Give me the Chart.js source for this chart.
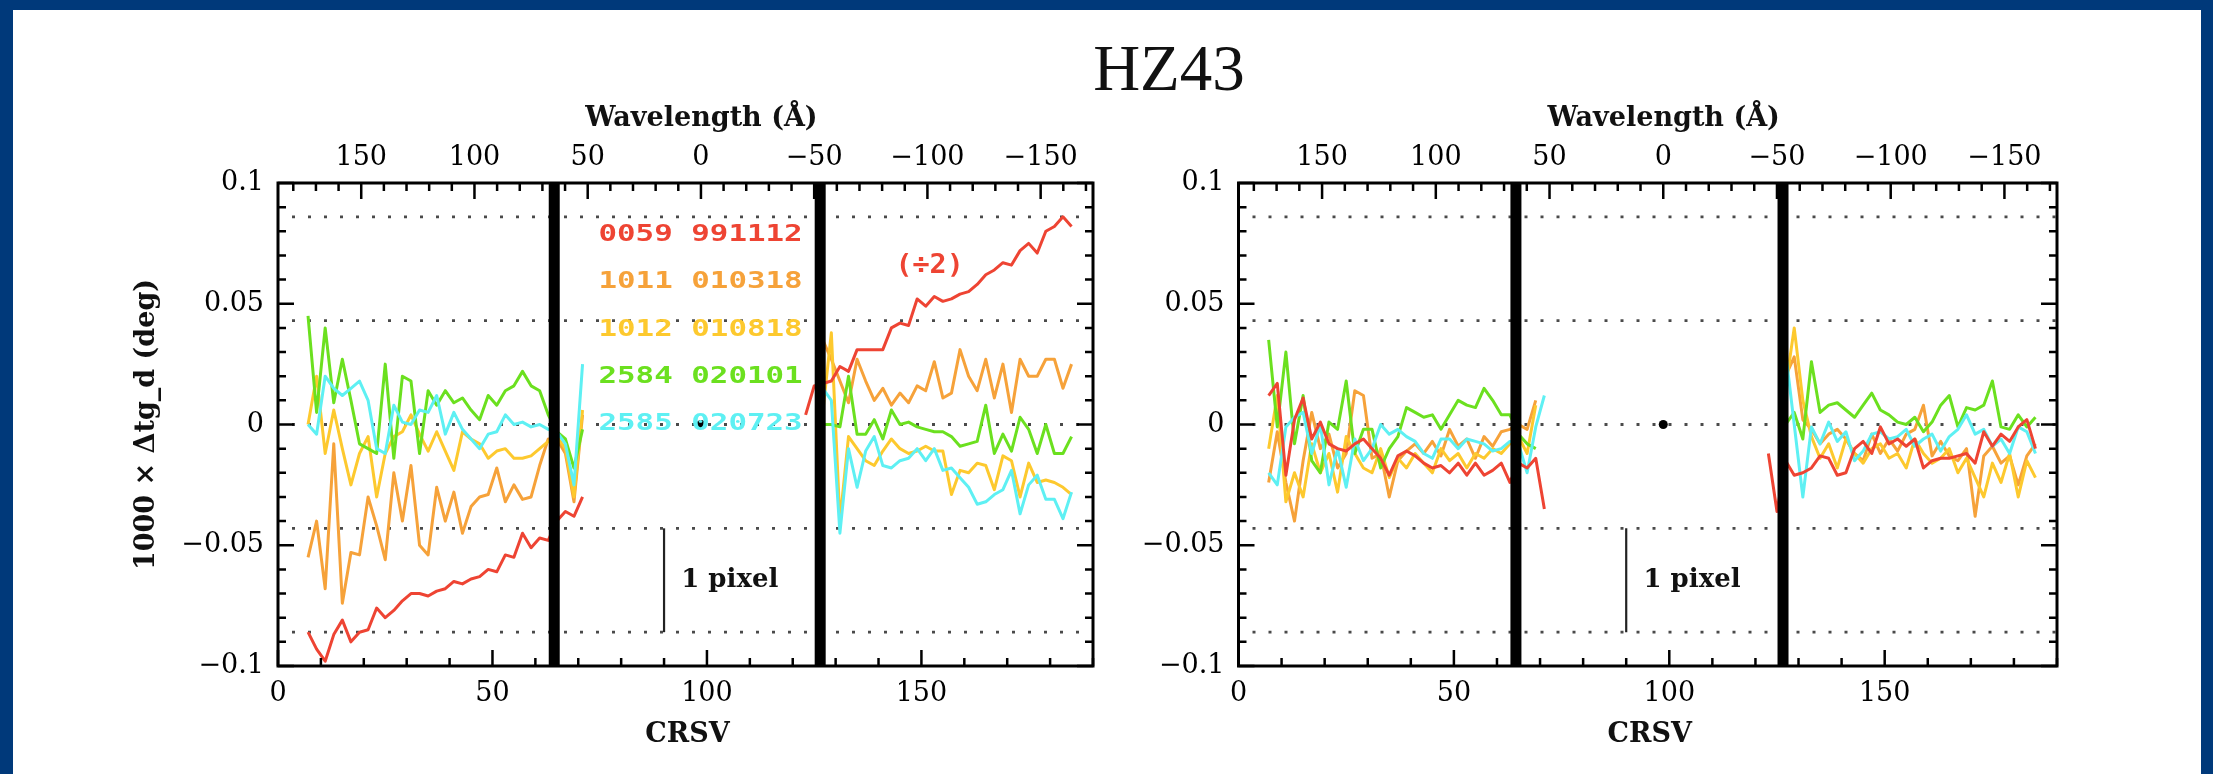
<!DOCTYPE html>
<html>
<head>
<meta charset="utf-8">
<script src="https://cdn.jsdelivr.net/npm/chart.js@4.4.1/dist/chart.umd.min.js"></script>
<style>
  html, body { margin: 0; padding: 0; background: #fff; }
  #page { position: relative; width: 2213px; height: 774px; overflow: hidden; background: #fff; }
  .band { position: absolute; background: #00397a; }
  #title {
    position: absolute; left: 869px; width: 600px; top: 36px;
    text-align: center; font-family: "Liberation Serif", serif;
    font-size: 65px; line-height: 65px; color: #111; z-index: 2;
  }
  canvas { position: absolute; top: 0; }
</style>
</head>
<body>
<div id="page">
  <div class="band" style="left:0;top:0;width:2213px;height:10px"></div>
  <div class="band" style="left:0;top:0;width:13px;height:774px"></div>
  <div class="band" style="left:2201px;top:0;width:12px;height:774px"></div>
  <div id="title">HZ43</div>
  <canvas id="panelA" width="1120" height="774" style="left:0"></canvas>
  <canvas id="panelB" width="1093" height="774" style="left:1120px"></canvas>
</div>
<script>
// CRSV positions of the plotted points (left and right of the gap)
const xLeft = [7, 9, 11, 13, 15, 17, 19, 21, 23, 25, 27, 29, 31, 33, 35, 37, 39, 41, 43, 45, 47, 49, 51, 53, 55, 57, 59, 61, 63, 65, 67, 69, 71];
const xRight = [123, 125, 127, 129, 131, 133, 135, 137, 139, 141, 143, 145, 147, 149, 151, 153, 155, 157, 159, 161, 163, 165, 167, 169, 171, 173, 175, 177, 179, 181, 183, 185];

// axes
const crsvRange = [0, 190];
const crsvTicks = [0, 50, 100, 150];
const wavelengthTicks = [-150, -100, -50, 0, 50, 100, 150];
const wavelengthZeroCrsv = 98.6;
const angstromPerCrsv = 1.894;
const yRange = [-0.1, 0.1];
const yTicks = [-0.1, -0.05, 0, 0.05, 0.1];

// reference marks
const guideLevels = [0.086, 0.043, 0, -0.043, -0.086];
const gapColumns = [64.4, 126.4];
const pixelBarCrsv = 90;
const pixelBarRange = [-0.086, -0.043];

// legend
const seriesNames = ['0059 991112', '1011 010318', '1012 010818', '2584 020101', '2585 020723'];
const seriesColors = ['#ee4433', '#f6a23a', '#fdc92e', '#6be01f', '#5ef0f3'];

// left panel : 1000 x dtg_d, red is divided by 2 on the right side
const redA_L = [-0.086, -0.093, -0.098, -0.087, -0.081, -0.090, -0.086, -0.085, -0.076, -0.080, -0.077, -0.073, -0.070, -0.070, -0.071, -0.069, -0.068, -0.065, -0.066, -0.064, -0.063, -0.060, -0.061, -0.054, -0.055, -0.045, -0.051, -0.047, -0.048, -0.040, -0.036, -0.038, -0.030];
const redA_R = [0.004, 0.016, 0.017, 0.018, 0.024, 0.022, 0.031, 0.031, 0.031, 0.031, 0.040, 0.042, 0.041, 0.052, 0.049, 0.053, 0.051, 0.052, 0.054, 0.055, 0.058, 0.062, 0.064, 0.067, 0.066, 0.072, 0.075, 0.071, 0.080, 0.082, 0.086, 0.082];
const orangeA_L = [-0.055, -0.040, -0.068, -0.008, -0.074, -0.053, -0.054, -0.030, -0.042, -0.056, -0.020, -0.040, -0.017, -0.050, -0.054, -0.026, -0.040, -0.028, -0.045, -0.034, -0.030, -0.029, -0.018, -0.032, -0.025, -0.031, -0.030, -0.017, -0.006, -0.006, -0.012, -0.032, 0.004];
const orangeA_R = [null, null, 0.035, 0.027, 0.018, 0.009, 0.027, 0.018, 0.010, 0.015, 0.008, 0.013, 0.009, 0.016, 0.014, 0.026, 0.011, 0.013, 0.031, 0.020, 0.014, 0.027, 0.011, 0.025, 0.005, 0.027, 0.020, 0.020, 0.027, 0.027, 0.015, 0.025];
const yellowA_L = [0.000, 0.020, -0.012, 0.006, -0.010, -0.025, -0.012, -0.005, -0.030, -0.012, -0.005, -0.003, 0.004, -0.004, -0.011, -0.003, -0.011, -0.019, -0.003, -0.006, -0.008, -0.014, -0.011, -0.010, -0.014, -0.014, -0.013, -0.010, -0.007, -0.005, -0.010, -0.030, 0.006];
const yellowA_R = [null, null, 0.005, 0.038, -0.040, -0.005, -0.010, -0.015, -0.017, -0.011, -0.006, -0.010, -0.012, -0.011, -0.009, -0.011, -0.011, -0.029, -0.019, -0.020, -0.016, -0.017, -0.027, -0.013, -0.015, -0.030, -0.016, -0.024, -0.023, -0.024, -0.026, -0.029];
const greenA_L = [0.045, 0.005, 0.040, 0.009, 0.027, 0.010, -0.008, -0.010, -0.012, 0.025, -0.014, 0.020, 0.018, -0.012, 0.014, 0.008, 0.014, 0.009, 0.011, 0.006, 0.002, 0.012, 0.008, 0.014, 0.016, 0.022, 0.016, 0.014, 0.004, -0.003, -0.006, -0.018, -0.002];
const greenA_R = [null, null, 0.000, 0.000, -0.001, 0.020, -0.004, -0.004, 0.002, -0.006, 0.006, 0.000, 0.001, -0.001, -0.002, -0.003, -0.003, -0.005, -0.009, -0.008, -0.007, 0.008, -0.012, -0.004, -0.011, 0.003, -0.002, -0.012, 0.000, -0.012, -0.012, -0.005];
const cyanA_L = [0.000, -0.004, 0.020, 0.015, 0.012, 0.015, 0.018, 0.010, -0.010, -0.012, 0.008, 0.001, 0.000, 0.006, 0.005, 0.012, -0.004, 0.005, -0.002, -0.006, -0.010, -0.004, -0.003, 0.004, 0.000, 0.001, -0.001, 0.000, -0.002, -0.003, -0.008, -0.025, 0.025];
const cyanA_R = [null, null, 0.015, 0.010, -0.045, -0.010, -0.026, -0.011, -0.005, -0.017, -0.018, -0.015, -0.014, -0.010, -0.015, -0.010, -0.019, -0.018, -0.022, -0.026, -0.033, -0.032, -0.029, -0.027, -0.019, -0.037, -0.025, -0.021, -0.031, -0.031, -0.039, -0.028];

// right panel
const redB_L = [0.012, 0.017, -0.021, 0.002, 0.011, -0.006, 0.001, -0.008, -0.010, -0.011, -0.008, -0.006, -0.010, -0.014, -0.021, -0.013, -0.011, -0.013, -0.016, -0.018, -0.017, -0.020, -0.016, -0.021, -0.016, -0.021, -0.019, -0.016, -0.024, -0.016, -0.018, -0.014, -0.035];
const redB_R = [-0.012, -0.036, -0.015, -0.021, -0.020, -0.018, -0.013, -0.014, -0.021, -0.020, -0.010, -0.007, -0.012, -0.001, -0.008, -0.006, -0.009, -0.006, -0.018, -0.015, -0.014, -0.014, -0.013, -0.012, -0.016, -0.003, -0.009, -0.004, -0.007, -0.001, 0.002, -0.010];
const orangeB_L = [-0.024, -0.003, -0.024, -0.040, -0.015, 0.005, -0.010, -0.004, -0.018, -0.012, 0.014, 0.012, -0.014, -0.012, -0.030, -0.015, -0.011, -0.008, -0.012, -0.007, -0.013, -0.002, -0.009, -0.006, -0.014, -0.005, -0.009, -0.003, -0.002, 0.000, -0.002, 0.010, null];
const orangeB_R = [null, null, 0.020, 0.028, 0.002, -0.002, -0.008, -0.004, -0.002, -0.006, -0.012, -0.015, -0.004, -0.012, -0.006, -0.011, -0.004, -0.002, 0.008, -0.013, -0.007, -0.013, -0.015, -0.010, -0.038, -0.013, -0.009, -0.016, -0.013, -0.025, -0.013, -0.008];
const yellowB_L = [-0.010, 0.012, -0.032, -0.020, -0.030, -0.008, -0.020, -0.012, -0.028, -0.005, -0.012, -0.018, -0.020, -0.010, -0.022, -0.014, -0.018, -0.012, -0.016, -0.020, -0.010, -0.015, -0.012, -0.018, -0.012, -0.014, -0.010, -0.012, -0.008, -0.005, -0.012, 0.008, null];
const yellowB_R = [null, null, 0.015, 0.040, 0.010, -0.005, -0.014, -0.008, -0.018, -0.006, -0.012, -0.016, -0.010, -0.008, -0.014, -0.012, -0.018, -0.006, -0.012, -0.016, -0.014, -0.010, -0.020, -0.014, -0.022, -0.030, -0.016, -0.024, -0.012, -0.030, -0.015, -0.022];
const greenB_L = [0.035, -0.001, 0.030, -0.008, 0.012, -0.015, -0.020, 0.001, -0.002, 0.018, -0.012, -0.002, -0.002, -0.018, -0.010, -0.005, 0.007, 0.005, 0.003, 0.004, -0.002, 0.004, 0.010, 0.008, 0.007, 0.015, 0.010, 0.004, 0.004, -0.004, -0.008, -0.010, null];
const greenB_R = [null, null, 0.000, 0.005, -0.006, 0.026, 0.005, 0.008, 0.009, 0.006, 0.003, 0.008, 0.013, 0.006, 0.004, 0.001, 0.000, 0.003, -0.003, 0.001, 0.008, 0.012, -0.001, 0.007, 0.006, 0.008, 0.018, -0.001, -0.002, 0.004, -0.001, 0.003];
const cyanB_L = [-0.020, -0.025, -0.001, 0.003, 0.005, -0.012, 0.000, -0.025, -0.010, -0.026, -0.006, -0.015, -0.010, 0.000, -0.004, -0.002, -0.005, -0.007, -0.012, -0.014, -0.006, -0.006, -0.010, -0.006, -0.007, -0.008, -0.011, -0.010, -0.007, -0.008, -0.020, -0.001, 0.012];
const cyanB_R = [null, null, 0.030, 0.000, -0.030, -0.001, -0.008, 0.001, -0.007, -0.003, -0.015, -0.011, -0.004, -0.003, -0.006, -0.005, -0.002, -0.009, -0.006, -0.004, -0.011, -0.005, -0.002, 0.004, -0.004, -0.002, -0.009, -0.006, -0.012, -0.001, -0.003, -0.012];


const serifFont = '"DejaVu Serif", serif';
const monoFont = '"DejaVu Sans Mono", monospace';

function minusSign(v) {
  return v < 0 ? '\u2212' + String(Math.abs(v)) : String(v);
}

// un trait continu a gauche, un trou, puis la partie droite
function trace(ysLeft, ysRight) {
  const pts = xLeft.map((x, i) => ({x: x, y: ysLeft[i]}));
  pts.push({x: (xLeft[xLeft.length - 1] + xRight[0]) / 2, y: null});
  xRight.forEach((x, i) => pts.push({x: x, y: ysRight[i]}));
  return pts;
}

function panelDatasets(series) {
  const sets = [];
  gapColumns.forEach(c => {
    sets.push({
      data: [{x: c, y: yRange[0]}, {x: c, y: yRange[1]}],
      borderColor: '#000', borderWidth: 11, borderCapStyle: 'butt', order: 0
    });
  });
  sets.push({
    data: [{x: pixelBarCrsv, y: pixelBarRange[0]}, {x: pixelBarCrsv, y: pixelBarRange[1]}],
    borderColor: '#222', borderWidth: 2.2, order: 0
  });
  sets.push({
    data: [{x: wavelengthZeroCrsv, y: 0}],
    showLine: false, pointRadius: 4.5, pointBackgroundColor: '#000', pointBorderWidth: 0, order: 0
  });
  // ordre de dessin : rouge au dessus
  const drawOrder = [1, 5, 4, 3, 2];
  series.forEach((s, i) => {
    sets.push({
      data: trace(s[0], s[1]),
      borderColor: seriesColors[i], borderWidth: 3, borderJoinStyle: 'round',
      order: drawOrder[i]
    });
  });
  guideLevels.forEach(v => {
    sets.push({
      data: [{x: crsvRange[0], y: v}, {x: crsvRange[1], y: v}],
      borderColor: '#4a4a4a', borderWidth: 2.8, borderDash: [3, 13], borderDashOffset: -14, order: 10
    });
  });
  return sets;
}

function wideText(ctx, str, x, y, stretch) {
  ctx.save();
  ctx.translate(x, y);
  ctx.scale(stretch, 1);
  ctx.fillText(str, 0, 0);
  ctx.restore();
}

const panelDecor = {
  id: 'panelDecor',
  afterDraw(chart, args, opts) {
    const ctx = chart.ctx;
    const a = chart.chartArea;
    const sx = chart.scales.x, sy = chart.scales.y, sw = chart.scales.wl;
    ctx.save();

    // graduations vers l'interieur
    ctx.strokeStyle = '#000';
    ctx.lineWidth = 2.5;
    ctx.beginPath();
    for (let v = crsvRange[0]; v <= crsvRange[1]; v += 10) {
      const px = sx.getPixelForValue(v);
      const len = v % 50 === 0 ? 16 : 8;
      ctx.moveTo(px, a.bottom); ctx.lineTo(px, a.bottom - len);
    }
    for (let w = -170; w <= 180; w += 10) {
      const px = sw.getPixelForValue(w);
      const len = w % 50 === 0 ? 16 : 8;
      ctx.moveTo(px, a.top); ctx.lineTo(px, a.top + len);
    }
    for (let k = -10; k <= 10; k++) {
      const py = sy.getPixelForValue(k / 100);
      const len = k % 5 === 0 ? 16 : 8;
      ctx.moveTo(a.left, py); ctx.lineTo(a.left + len, py);
      ctx.moveTo(a.right, py); ctx.lineTo(a.right - len, py);
    }
    ctx.stroke();
    ctx.lineWidth = 3;
    ctx.strokeRect(a.left, a.top, a.right - a.left, a.bottom - a.top);

    // titres des axes
    ctx.fillStyle = '#111';
    ctx.font = 'bold 27px ' + serifFont;
    ctx.textAlign = 'center';
    ctx.textBaseline = 'alphabetic';
    const mid = (a.left + a.right) / 2;
    ctx.fillText('Wavelength (\u00c5)', mid + 16, a.top - 57);
    ctx.fillText('CRSV', mid + 2, a.bottom + 76);
    if (opts.yTitle) {
      ctx.save();
      ctx.translate(a.left - 131, (a.top + a.bottom) / 2);
      ctx.rotate(-Math.PI / 2);
      ctx.textBaseline = 'middle';
      ctx.fillText('1000 \u00d7 \u0394tg_d (deg)', 0, 0);
      ctx.restore();
    }

    // 1 pixel
    ctx.font = 'bold 26px ' + serifFont;
    ctx.textAlign = 'left';
    ctx.textBaseline = 'middle';
    ctx.fillText('1 pixel', sx.getPixelForValue(pixelBarCrsv + 4), sy.getPixelForValue((pixelBarRange[0] + pixelBarRange[1]) / 2));

    if (opts.legend) {
      ctx.font = 'bold 23px ' + monoFont;
      ctx.textAlign = 'right';
      ctx.textBaseline = 'middle';
      const xr = sx.getPixelForValue(122.3);
      seriesNames.forEach((name, i) => {
        ctx.fillStyle = seriesColors[i];
        wideText(ctx, name, xr, sy.getPixelForValue(0.0785 - i * 0.0196), 1.34);
      });
      ctx.fillStyle = seriesColors[0];
      ctx.textAlign = 'center';
      ctx.font = 'bold 27px ' + monoFont;
      wideText(ctx, '(\u00f72)', sx.getPixelForValue(151.9), sy.getPixelForValue(0.0656), 1.05);
    }
    ctx.restore();
  }
};

function makePanel(canvasId, series, axisWidth, rightPad, opts) {
  const tickFont = {family: serifFont, size: 27};
  return new Chart(document.getElementById(canvasId), {
    type: 'line',
    data: {datasets: panelDatasets(series)},
    options: {
      responsive: false,
      animation: false,
      events: [],
      layout: {padding: {left: 0, top: 0, bottom: 0, right: rightPad}},
      elements: {
        point: {radius: 0},
        line: {tension: 0, fill: false}
      },
      plugins: {
        legend: {display: false},
        tooltip: {enabled: false},
        panelDecor: opts
      },
      scales: {
        x: {
          type: 'linear', position: 'bottom',
          min: crsvRange[0], max: crsvRange[1],
          grid: {display: false, drawTicks: false},
          border: {display: false},
          ticks: {font: tickFont, color: '#000', padding: 12, maxRotation: 0, autoSkip: false},
          afterBuildTicks: s => { s.ticks = crsvTicks.map(v => ({value: v})); },
          afterFit: s => { s.height = 108; }
        },
        wl: {
          type: 'linear', position: 'top', reverse: true,
          min: -(crsvRange[1] - wavelengthZeroCrsv) * angstromPerCrsv,
          max: (wavelengthZeroCrsv - crsvRange[0]) * angstromPerCrsv,
          grid: {display: false, drawTicks: false},
          border: {display: false},
          ticks: {font: tickFont, color: '#000', padding: 9, maxRotation: 0, autoSkip: false, callback: v => minusSign(v)},
          afterBuildTicks: s => { s.ticks = wavelengthTicks.map(v => ({value: v})); },
          afterFit: s => { s.height = 183; }
        },
        y: {
          type: 'linear', position: 'left',
          min: yRange[0], max: yRange[1],
          grid: {display: false, drawTicks: false},
          border: {display: false},
          ticks: {font: tickFont, color: '#000', padding: 14, autoSkip: false, callback: v => minusSign(v)},
          afterBuildTicks: s => { s.ticks = yTicks.map(v => ({value: v})); },
          afterFit: s => { s.width = axisWidth; }
        }
      }
    },
    plugins: [panelDecor]
  });
}

makePanel('panelA', [
  [redA_L, redA_R], [orangeA_L, orangeA_R], [yellowA_L, yellowA_R], [greenA_L, greenA_R], [cyanA_L, cyanA_R]
], 278, 27, {legend: true, yTitle: true});

makePanel('panelB', [
  [redB_L, redB_R], [orangeB_L, orangeB_R], [yellowB_L, yellowB_R], [greenB_L, greenB_R], [cyanB_L, cyanB_R]
], 118.5, 156, {legend: false, yTitle: false});
</script>
</body>
</html>
